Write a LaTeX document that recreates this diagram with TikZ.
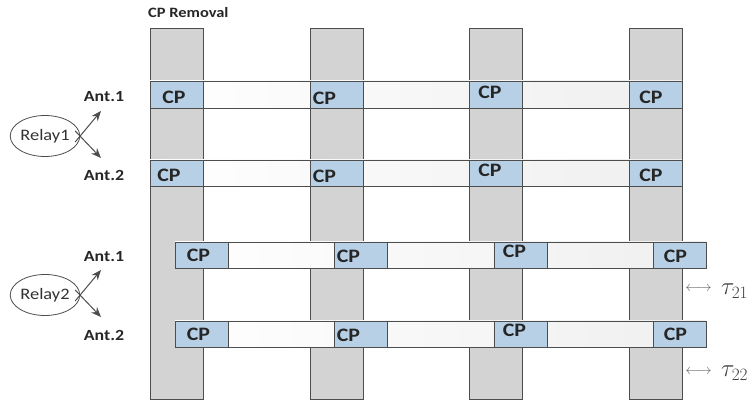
\documentclass[tikz,border=0pt]{standalone}
\usepackage{fontspec}
\usepackage{graphicx}
\setmainfont{Carlito}
\usetikzlibrary{arrows.meta,shapes.geometric}
\definecolor{colfill}{HTML}{D3D3D3}
\definecolor{rowfill}{HTML}{EFEFEF}
\definecolor{cpfill}{HTML}{B8D0E6}
\definecolor{edge}{HTML}{4D4D4D}
\newcommand{\wdtxt}[1]{\scalebox{1.15}[1]{#1}}
\begin{document}
\begin{tikzpicture}[x=1pt,y=-1pt,
  col/.style={draw=edge,line width=0.9pt,fill=colfill,anchor=north west,inner sep=0pt,outer sep=0pt,minimum width=53pt,minimum height=371pt},
  rowbar/.style={draw=edge,line width=0.9pt,left color=white,right color=rowfill,anchor=north west,inner sep=0pt,outer sep=0pt,minimum height=27pt},
  cpbox/.style={draw=edge,line width=0.9pt,fill=cpfill,anchor=north west,inner sep=0pt,outer sep=0pt,minimum width=53pt,minimum height=27pt},
  cptext/.style={inner sep=0pt,font=\fontsize{19}{19}\selectfont\bfseries,text=black!85},
  relay/.style={draw=edge,line width=0.8pt,ellipse,fill=white,inner sep=0pt,minimum width=65pt,minimum height=41pt,font=\fontsize{16}{16}\selectfont,text=black!80},
  antlbl/.style={font=\fontsize{15.5}{15.5}\selectfont\bfseries,inner sep=0pt,text=black!85},
  antarrow/.style={draw=edge,line width=1pt,-{Stealth[length=10pt,width=8pt]}},
  taulbl/.style={inner sep=0pt,font=\fontsize{23}{23}\selectfont,text=black!75},
  dblarrow/.style={inner sep=0pt,font=\fontsize{15}{15}\selectfont,text=black!60}
]
\useasboundingbox (0,0) rectangle (753,403);
\node[font=\fontsize{14.3}{14.3}\selectfont\bfseries,anchor=west,inner sep=0pt,text=black!85] (title) at (148,13) {\wdtxt{CP Removal}};
% columns
\node[col] (c1) at (150,28) {};
\node[col] (c2) at (310,28) {};
\node[col] (c3) at (469,28) {};
\node[col] (c4) at (629,28) {};
% relay 1 rows
\node[rowbar,minimum width=532pt] (r1a) at (150,81) {};
\node[cpbox] (p1a1) at (150,81) {};
\node[cpbox] (p1a2) at (310,81) {};
\node[cpbox] (p1a3) at (469,81) {};
\node[cpbox] (p1a4) at (629,81) {};
\node[rowbar,minimum width=532pt,minimum height=26pt] (r1b) at (150,160) {};
\node[cpbox,minimum height=26pt] (p1b1) at (150,160) {};
\node[cpbox,minimum height=26pt] (p1b2) at (310,160) {};
\node[cpbox,minimum height=26pt] (p1b3) at (469,160) {};
\node[cpbox,minimum height=26pt] (p1b4) at (629,160) {};
% relay 2 rows
\node[rowbar,minimum width=531pt,minimum height=26pt] (r2a) at (175,242) {};
\node[cpbox,minimum height=26pt] (p2a1) at (175,242) {};
\node[cpbox,minimum height=26pt] (p2a2) at (334,242) {};
\node[cpbox,minimum height=26pt] (p2a3) at (494,242) {};
\node[cpbox,minimum height=26pt] (p2a4) at (653,242) {};
\node[rowbar,minimum width=531pt,minimum height=26pt] (r2b) at (175,321) {};
\node[cpbox,minimum height=26pt] (p2b1) at (175,321) {};
\node[cpbox,minimum height=26pt] (p2b2) at (334,321) {};
\node[cpbox,minimum height=26pt] (p2b3) at (494,321) {};
\node[cpbox,minimum height=26pt] (p2b4) at (653,321) {};
% CP texts
\node[cptext] (t1a1) at (174,97) {\wdtxt{CP}};
\node[cptext] (t1a2) at (324.5,98) {\wdtxt{CP}};
\node[cptext] (t1a3) at (490,92) {\wdtxt{CP}};
\node[cptext] (t1a4) at (651,97) {\wdtxt{CP}};
\node[cptext] (t1b1) at (169,175) {\wdtxt{CP}};
\node[cptext] (t1b2) at (324.5,176) {\wdtxt{CP}};
\node[cptext] (t1b3) at (490,170.5) {\wdtxt{CP}};
\node[cptext] (t1b4) at (651,175.5) {\wdtxt{CP}};
\node[cptext] (t2a1) at (198.5,255.5) {\wdtxt{CP}};
\node[cptext] (t2a2) at (348.5,256) {\wdtxt{CP}};
\node[cptext] (t2a3) at (514.5,251) {\wdtxt{CP}};
\node[cptext] (t2a4) at (675.5,256) {\wdtxt{CP}};
\node[cptext] (t2b1) at (198.5,334) {\wdtxt{CP}};
\node[cptext] (t2b2) at (348.5,335) {\wdtxt{CP}};
\node[cptext] (t2b3) at (514.5,330) {\wdtxt{CP}};
\node[cptext] (t2b4) at (675.5,334) {\wdtxt{CP}};
% relays
\node[relay] (rel1) at (45,136) {\wdtxt{Relay1}};
\node[relay] (rel2) at (45,295) {\wdtxt{Relay2}};
\node[antlbl] (ant11) at (104,97) {\wdtxt{Ant.1}};
\node[antlbl] (ant12) at (104,175) {\wdtxt{Ant.2}};
\node[antlbl] (ant21) at (104,257) {\wdtxt{Ant.1}};
\node[antlbl] (ant22) at (104,335) {\wdtxt{Ant.2}};
\coordinate (e11) at (101,111);
\coordinate (e12) at (101,158);
\coordinate (e21) at (101,270);
\coordinate (e22) at (101,317);
\draw[antarrow] ([shift={(-5,6)}]rel1.east) -- (e11);
\draw[antarrow] ([shift={(-5,-5)}]rel1.east) -- (e12);
\draw[antarrow] ([shift={(-5,6)}]rel2.east) -- (e21);
\draw[antarrow] ([shift={(-5,-5)}]rel2.east) -- (e22);
% taus
\node[dblarrow] (arr1) at (698.5,289) {$\longleftrightarrow$};
\node[taulbl,anchor=west] (tau1) at (721,291) {$\tau_{21}$};
\node[dblarrow] (arr2) at (698.5,372) {$\longleftrightarrow$};
\node[taulbl,anchor=west] (tau2) at (721,373) {$\tau_{22}$};
\end{tikzpicture}
\end{document}
